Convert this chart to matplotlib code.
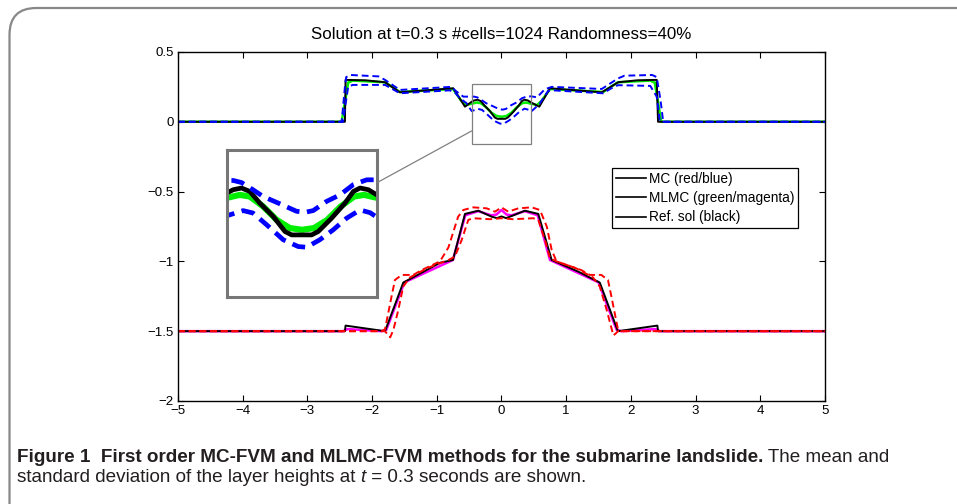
import matplotlib
matplotlib.use('Agg')
import matplotlib.pyplot as plt
from matplotlib.lines import Line2D
from matplotlib.patches import Rectangle, FancyBboxPatch, ConnectionPatch

# ---- upper layer ----
top_ref_x = [-5, -2.42, -2.41, -2.1, -1.80, -1.57, -0.746, -0.564, -0.462, -0.421, -0.370, -0.319,
             -0.258, -0.176, -0.104, -0.063, 0.059, 0.10, 0.182, 0.264, 0.315, 0.356, 0.407, 0.458,
             0.585, 0.75, 1.55, 1.805, 2.1, 2.40, 2.42, 5]
top_ref_y = [0, 0, 0.30, 0.297, 0.283, 0.211, 0.24, 0.108, 0.143, 0.153, 0.158, 0.148,
             0.114, 0.075, 0.031, 0.021, 0.021, 0.031, 0.07, 0.114, 0.148, 0.158, 0.153, 0.138,
             0.108, 0.24, 0.211, 0.283, 0.297, 0.30, 0, 0]

top_mlmc_x = [-5, -2.47, -2.37, -2.30, -1.80, -1.57, -0.75, -0.62, -0.55, -0.462, -0.38, -0.319,
              -0.237, -0.155, -0.074, 0, 0.074, 0.155, 0.237, 0.319, 0.38, 0.462, 0.55, 0.62,
              0.75, 1.57, 1.80, 2.30, 2.37, 2.47, 5]
top_mlmc_y = [0, 0, 0.28, 0.295, 0.283, 0.213, 0.235, 0.15, 0.12, 0.129, 0.138, 0.133,
              0.104, 0.065, 0.041, 0.036, 0.041, 0.065, 0.104, 0.133, 0.138, 0.129, 0.12, 0.15,
              0.235, 0.213, 0.283, 0.295, 0.28, 0, 0]

top_mc_hi_x = [-5, -2.47, -2.42, -2.40, -2.33, -1.90, -1.80, -1.57, -0.78, -0.69, -0.59, -0.42,
               -0.37, -0.30, -0.237, -0.145, -0.033, 0.018, 0.069, 0.151, 0.233, 0.315, 0.397,
               0.458, 0.55, 0.67, 0.78, 1.55, 1.80, 1.90, 2.33, 2.40, 2.46, 2.50, 5]
top_mc_hi_y = [0, 0, 0.25, 0.32, 0.335, 0.325, 0.30, 0.228, 0.25, 0.215, 0.18, 0.18,
               0.174, 0.153, 0.133, 0.114, 0.090, 0.087, 0.092, 0.119, 0.138, 0.168, 0.182,
               0.182, 0.175, 0.233, 0.25, 0.235, 0.31, 0.33, 0.335, 0.32, 0.15, 0, 0]

top_mc_lo_x = [-5, -2.45, -2.37, -2.30, -1.80, -1.65, -1.57, -0.80, -0.72, -0.64, -0.54, -0.48,
               -0.46, -0.36, -0.30, -0.217, -0.115, -0.023, 0.029, 0.110, 0.192, 0.274, 0.356,
               0.417, 0.458, 0.50, 0.595, 0.72, 0.80, 1.57, 1.70, 1.80, 2.30, 2.40, 2.45, 5]
top_mc_lo_y = [0, 0, 0.25, 0.264, 0.264, 0.225, 0.204, 0.225, 0.21, 0.168, 0.133, 0.09,
               0.077, 0.092, 0.085, 0.051, 0.007, -0.013, -0.015, 0.007, 0.036, 0.070, 0.094,
               0.086, 0.073, 0.09, 0.133, 0.22, 0.225, 0.204, 0.24, 0.262, 0.257, 0.18, 0, 0]

# ---- lower layer ----
bot_ref_x = [-5, -2.42, -2.41, -1.80, -1.518, -1.156, -0.95, -0.75, -0.564, -0.358, -0.151, -0.07,
             0, 0.07, 0.158, 0.363, 0.569, 0.776, 1.19, 1.52, 1.80, 2.41, 2.42, 5]
bot_ref_y = [-1.5, -1.5, -1.46, -1.50, -1.152, -1.062, -1.01, -0.99, -0.66, -0.637, -0.68, -0.69,
             -0.678, -0.69, -0.675, -0.637, -0.66, -0.99, -1.074, -1.152, -1.50, -1.46, -1.5, -1.5]

bot_mlmc_x = [-5, -2.45, -2.38, -1.85, -1.78, -1.50, -0.75, -0.56, -0.36, -0.16, -0.08, 0,
              0.08, 0.16, 0.36, 0.56, 0.75, 1.50, 1.78, 1.85, 2.38, 2.45, 5]
bot_mlmc_y = [-1.5, -1.5, -1.485, -1.50, -1.49, -1.15, -0.99, -0.67, -0.64, -0.67, -0.665, -0.632,
              -0.665, -0.67, -0.64, -0.67, -0.99, -1.15, -1.49, -1.50, -1.485, -1.5, -1.5]

bot_mc_hi_x = [-5, -1.85, -1.80, -1.70, -1.646, -1.543, -1.363, -1.233, -0.95, -0.82, -0.67, -0.59,
               -0.436, -0.229, -0.10, 0, 0.105, 0.26, 0.467, 0.595, 0.70, 0.776, 0.85, 1.233,
               1.363, 1.543, 1.646, 1.70, 1.80, 1.85, 5]
bot_mc_hi_y = [-1.5, -1.5, -1.486, -1.253, -1.133, -1.097, -1.097, -1.062, -1.0, -0.90, -0.68, -0.632,
               -0.613, -0.62, -0.644, -0.613, -0.644, -0.62, -0.613, -0.632, -0.75, -0.918, -1.0, -1.062,
               -1.097, -1.097, -1.133, -1.253, -1.486, -1.5, -1.5]

bot_mc_lo_x = [-5, -1.80, -1.774, -1.72, -1.67, -1.595, -1.518, -1.414, -1.156, -0.82, -0.72, -0.615,
               -0.513, -0.436, -0.178, 0, 0.18, 0.49, 0.569, 0.672, 0.75, 0.85, 1.156, 1.414,
               1.52, 1.626, 1.73, 1.77, 1.80, 5]
bot_mc_lo_y = [-1.5, -1.5, -1.515, -1.544, -1.49, -1.348, -1.18, -1.115, -1.05, -0.99, -0.966, -0.847,
               -0.703, -0.691, -0.698, -0.691, -0.698, -0.691, -0.703, -0.847, -0.978, -1.0, -1.05, -1.115,
               -1.18, -1.348, -1.53, -1.515, -1.5, -1.5]

xticks = [-5, -4, -3, -2, -1, 0, 1, 2, 3, 4, 5]
yticks = [-2, -1.5, -1, -0.5, 0, 0.5]
ytick_labels = ['\u22122', '\u22121.5', '\u22121', '\u22120.5', '0', '0.5']
legend_labels = ['MC (red/blue)', 'MLMC (green/magenta)', 'Ref. sol (black)']
zoom_x = [-0.46, 0.46]
zoom_y = [-0.16, 0.27]

title = 'Solution at t=0.3 s #cells=1024 Randomness=40%'

plt.rcParams['font.family'] = ['Liberation Sans', 'DejaVu Sans']

fig = plt.figure(figsize=(9.57, 5.04), dpi=100)
ax = fig.add_axes([0.186, 0.2044, 0.676, 0.6925])


def draw_curves(a, lw, dash):
    a.plot(top_mlmc_x, top_mlmc_y, color='#00ee00', lw=lw * 1.3)
    a.plot(top_ref_x, top_ref_y, color='black', lw=lw)
    a.plot(top_mc_hi_x, top_mc_hi_y, color='blue', lw=lw, linestyle=(0, dash))
    a.plot(top_mc_lo_x, top_mc_lo_y, color='blue', lw=lw, linestyle=(0, dash))
    a.plot(bot_mlmc_x, bot_mlmc_y, color='magenta', lw=lw * 1.3)
    a.plot(bot_ref_x, bot_ref_y, color='black', lw=lw)
    a.plot(bot_mc_hi_x, bot_mc_hi_y, color='red', lw=lw, linestyle=(0, dash))
    a.plot(bot_mc_lo_x, bot_mc_lo_y, color='red', lw=lw, linestyle=(0, dash))


draw_curves(ax, 1.4, (3.5, 2))

ax.set_xlim(-5, 5)
ax.set_ylim(-2, 0.5)
ax.set_xticks(xticks)
ax.set_yticks(yticks)
ax.set_yticklabels(ytick_labels)
ax.tick_params(direction='in', length=4, width=0.8, top=True, right=True,
               labelsize=9.5, pad=3)
for s in ax.spines.values():
    s.set_linewidth(1.0)
ax.set_title(title, fontsize=12.2, pad=9)

handles = [Line2D([], [], color='black', lw=1.2) for _ in legend_labels]
leg = ax.legend(handles, legend_labels, loc='upper left', bbox_to_anchor=(0.671, 0.668),
                fontsize=9.8, frameon=True, fancybox=False, framealpha=1, edgecolor='black',
                handlelength=2.2, handletextpad=0.2, borderpad=0.3, labelspacing=0.38,
                borderaxespad=0)
leg.get_frame().set_linewidth(0.9)

# zoom box + inset
ax.add_patch(Rectangle((zoom_x[0], zoom_y[0]), zoom_x[1] - zoom_x[0], zoom_y[1] - zoom_y[0],
                       fill=False, edgecolor='#808080', lw=0.9, zorder=5))
axin = fig.add_axes([0.237, 0.411, 0.157, 0.292])
draw_curves(axin, 3.4, (2.8, 1.6))
axin.set_xlim(zoom_x)
axin.set_ylim(zoom_y)
axin.set_xticks([])
axin.set_yticks([])
for s in axin.spines.values():
    s.set_edgecolor('#777777')
    s.set_linewidth(2.2)
con = ConnectionPatch(xyA=(1, 0.776), coordsA=axin.transAxes,
                      xyB=(zoom_x[0], zoom_y[0] + 0.22 * (zoom_y[1] - zoom_y[0])),
                      coordsB=ax.transData, color='#808080', lw=0.9)
fig.add_artist(con)

# rounded frame around the figure
frame = FancyBboxPatch((9.5 / 957, -0.1), 1.2, 0.1 + (504 - 8) / 504,
                       boxstyle='round,pad=0,rounding_size=0.028', transform=fig.transFigure,
                       fill=False, edgecolor='#888888', lw=1.6, mutation_aspect=957 / 504)
fig.add_artist(frame)

# caption
cap_font = ['Liberation Sans', 'DejaVu Sans']
cap_size = 13.6
cap_color = '#231f20'

y1 = 1 - 462.5 / 504
y2 = 1 - 482.5 / 504
t = fig.text(17 / 957, y1, 'Figure 1  First order MC-FVM and MLMC-FVM methods for the submarine landslide.',
             family=cap_font, fontsize=cap_size, weight='bold', color=cap_color, va='baseline')
plt.annotate(' The mean and', xy=(1, y1), xycoords=(t, 'figure fraction'), family=cap_font,
             fontsize=cap_size, color=cap_color, va='baseline')
t = fig.text(17 / 957, y2, 'standard deviation of the layer heights at ', family=cap_font,
             fontsize=cap_size, color=cap_color, va='baseline')
t = plt.annotate('t', xy=(1, y2), xycoords=(t, 'figure fraction'), family=cap_font,
                 fontsize=cap_size, color=cap_color, va='baseline', style='italic')
plt.annotate(' = 0.3 seconds are shown.', xy=(1, y2), xycoords=(t, 'figure fraction'), family=cap_font,
             fontsize=cap_size, color=cap_color, va='baseline')

fig.savefig('out.png', dpi=100)
